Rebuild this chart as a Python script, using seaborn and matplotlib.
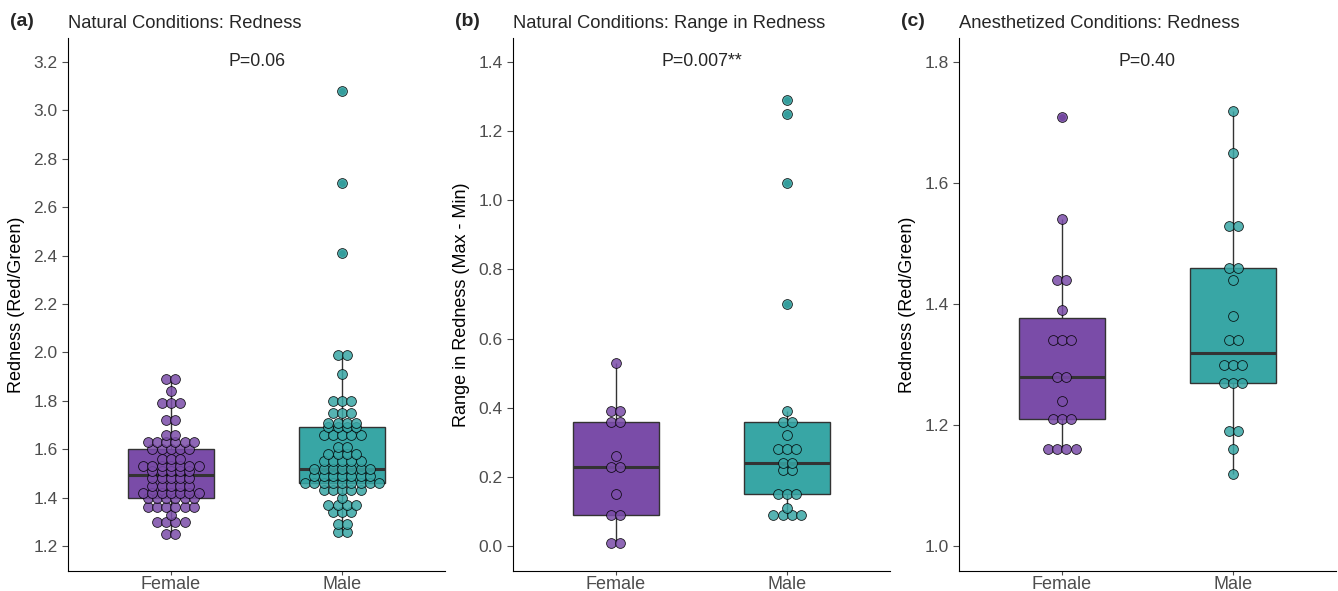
import numpy as np
import pandas as pd
import matplotlib
matplotlib.use("Agg")
import matplotlib.pyplot as plt
import seaborn as sns

sns.set_style("ticks")
plt.rcParams['font.family'] = ['Liberation Sans', 'DejaVu Sans']

groups = ["Female", "Male"]
colors = {"Female": "#7A4CA8", "Male": "#38A6A5"}
flier_colors = {"Female": "#4E2A73", "Male": "#1F6F6E"}

# (a) natural conditions, redness
nat_red_female = [1.25, 1.25, 1.30, 1.30, 1.30, 1.30, 1.33,
                  1.36, 1.36, 1.36, 1.36, 1.36, 1.36,
                  1.40, 1.40, 1.40, 1.40, 1.40, 1.40,
                  1.42, 1.42, 1.42, 1.42, 1.42, 1.42, 1.42,
                  1.45, 1.45, 1.45, 1.45, 1.45,
                  1.48, 1.48, 1.48, 1.48, 1.48,
                  1.51, 1.51, 1.51, 1.51, 1.51,
                  1.53, 1.53, 1.53, 1.53, 1.53, 1.53, 1.53,
                  1.56, 1.56, 1.56,
                  1.60, 1.60, 1.60, 1.60, 1.60,
                  1.63, 1.63, 1.63, 1.63, 1.63, 1.63,
                  1.66, 1.66, 1.72, 1.72, 1.79, 1.79, 1.79, 1.84, 1.89, 1.89]
nat_red_male = [1.26, 1.26, 1.29, 1.29, 1.34, 1.34, 1.34,
                1.37, 1.37, 1.37, 1.37, 1.40,
                1.43, 1.43, 1.43, 1.43, 1.43,
                1.46, 1.46, 1.46, 1.46, 1.46, 1.46, 1.46, 1.46, 1.46,
                1.49, 1.49, 1.49, 1.49, 1.49, 1.49, 1.49,
                1.52, 1.52, 1.52, 1.52, 1.52, 1.52, 1.52,
                1.55, 1.55, 1.55, 1.55, 1.55,
                1.58, 1.58, 1.58, 1.58, 1.61, 1.61,
                1.66, 1.66, 1.66, 1.66, 1.66,
                1.69, 1.69, 1.69, 1.69,
                1.71, 1.71, 1.71, 1.71,
                1.75, 1.75, 1.75, 1.80, 1.80, 1.80,
                1.91, 1.99, 1.99, 2.41, 2.70, 3.08]

# (b) natural conditions, range in redness
range_female = [0.01, 0.01, 0.09, 0.09, 0.15, 0.23, 0.23, 0.26,
                0.36, 0.36, 0.39, 0.39, 0.53]
range_male = [0.09, 0.09, 0.09, 0.09, 0.11, 0.15, 0.15, 0.15,
              0.22, 0.22, 0.24, 0.24, 0.28, 0.28, 0.28, 0.32,
              0.36, 0.36, 0.39, 0.70, 1.05, 1.25, 1.29]

# (c) anesthetized conditions, redness
anes_female = [1.16, 1.16, 1.16, 1.16, 1.21, 1.21, 1.21, 1.24,
               1.28, 1.28, 1.34, 1.34, 1.34, 1.39, 1.44, 1.44, 1.54, 1.71]
anes_male = [1.12, 1.16, 1.19, 1.19, 1.27, 1.27, 1.27, 1.30, 1.30, 1.30,
             1.34, 1.34, 1.38, 1.44, 1.46, 1.46, 1.53, 1.53, 1.65, 1.72]

panels = [
    ("(a)", "Natural Conditions: Redness", "Redness (Red/Green)", "P=0.06",
     nat_red_female, nat_red_male, (1.097, 3.299), np.arange(1.2, 3.21, 0.2)),
    ("(b)", "Natural Conditions: Range in Redness", "Range in Redness (Max - Min)", "P=0.007**",
     range_female, range_male, (-0.072, 1.469), np.arange(0.0, 1.41, 0.2)),
    ("(c)", "Anesthetized Conditions: Redness", "Redness (Red/Green)", "P=0.40",
     anes_female, anes_male, (0.959, 1.840), np.arange(1.0, 1.81, 0.2)),
]


def dot_offsets(vals, w):
    # centre-stack dots that share the same value (like a dotplot)
    vals = np.asarray(vals)
    xs = np.zeros(len(vals))
    for v in np.unique(vals):
        idx = np.where(vals == v)[0]
        n = len(idx)
        xs[idx] = (np.arange(n) - (n - 1) / 2) * w
    return xs


W, H = 1338, 591
fig = plt.figure(figsize=(W / 100, H / 100), dpi=100)
lefts = [68, 513, 959]

for left, (tag, title, ylab, ptxt, fem, mal, ylim, yticks) in zip(lefts, panels):
    ax = fig.add_axes([left / W, 20 / H, 377 / W, 533 / H])
    df = pd.DataFrame({"sex": ["Female"] * len(fem) + ["Male"] * len(mal),
                       "val": fem + mal})
    for g in groups:
        sns.boxplot(data=df[df.sex == g], x="sex", y="val", order=groups,
                    color=colors[g], saturation=1, width=0.5,
                    linecolor="#333333", linewidth=1.0, showcaps=False,
                    medianprops=dict(linewidth=2.2, color="#333333"),
                    flierprops=dict(marker="o", markersize=5,
                                    markerfacecolor=flier_colors[g],
                                    markeredgecolor="none"),
                    ax=ax)
    for i, (g, vals) in enumerate(zip(groups, [fem, mal])):
        ax.scatter(i + dot_offsets(vals, 0.054), vals, s=50, color=colors[g],
                   edgecolor="black", linewidth=0.6, alpha=0.85, zorder=3)

    ax.set_xlim(-0.6, 1.6)
    ax.set_ylim(*ylim)
    ax.set_yticks(yticks)
    ax.set_yticklabels(["%.1f" % t for t in yticks])
    ax.set_xlabel("")
    ax.set_ylabel(ylab, fontsize=13, color="black", labelpad=6)
    ax.tick_params(axis="y", labelsize=12.5, colors="#4D4D4D", length=4, width=0.8)
    ax.tick_params(axis="x", labelsize=13, colors="#4D4D4D", length=3,
                   width=0.8, pad=0.5)
    for lab in ax.get_xticklabels() + ax.get_yticklabels():
        lab.set_color("#4D4D4D")
    sns.despine(ax=ax)
    for s in ["left", "bottom"]:
        ax.spines[s].set_color("black")
        ax.spines[s].set_linewidth(0.8)
    ax.set_title(title, loc="left", fontsize=13.2, pad=7)
    ax.text(0.5, 0.955, ptxt, transform=ax.transAxes, ha="center", va="center",
            fontsize=12.8)
    fig.text((left - 58) / W, 1 - 22 / H, tag, fontsize=14, fontweight="bold",
             ha="left", va="center")

fig.savefig("out.png", dpi=100)
